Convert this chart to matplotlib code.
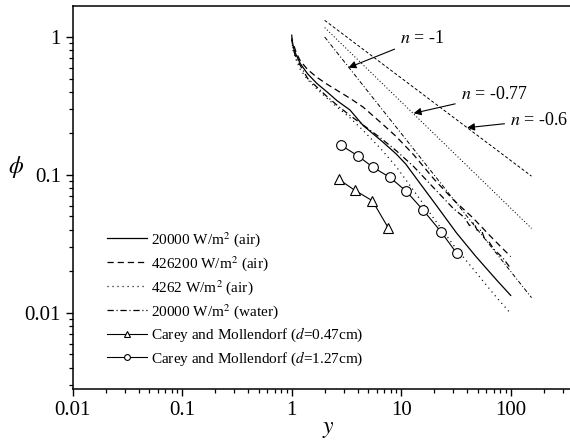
import numpy as np
import matplotlib
matplotlib.use('Agg')
import matplotlib.pyplot as plt
from matplotlib.ticker import FixedLocator, FixedFormatter, LogLocator, NullFormatter

plt.rcParams['font.family'] = ['Liberation Serif', 'DejaVu Serif']
plt.rcParams['mathtext.fontset'] = 'stix'
plt.rcParams['lines.scale_dashes'] = False

#! data
x_air20k = [1.0, 1.02, 1.05, 1.1, 1.2, 1.4, 1.7, 2.1, 2.6, 3.4, 4.5, 6.7, 9.0, 11.0, 15.5, 21, 32, 48, 74, 100]
phi_air20k = [1.03, 0.9, 0.81, 0.74, 0.64, 0.54, 0.46, 0.40, 0.345, 0.296, 0.228, 0.175, 0.142, 0.12, 0.083, 0.06, 0.038, 0.0257, 0.0174, 0.0134]

x_air426k = [1.05, 1.1, 1.2, 1.4, 1.7, 2.1, 2.6, 3.4, 4.5, 6.5, 9, 13, 20, 30, 45, 70, 100]
phi_air426k = [0.86, 0.77, 0.67, 0.58, 0.51, 0.455, 0.41, 0.36, 0.31, 0.24, 0.19, 0.14, 0.093, 0.066, 0.049, 0.034, 0.0256]

x_air4262 = [1.0, 1.03, 1.1, 1.2, 1.4, 1.7, 2.1, 2.6, 3.4, 4.5, 6.5, 9, 13, 20, 30, 45, 70, 100]
phi_air4262 = [0.95, 0.8, 0.68, 0.58, 0.49, 0.42, 0.36, 0.31, 0.26, 0.21, 0.155, 0.115, 0.077, 0.048, 0.031, 0.021, 0.0137, 0.0099]

x_water = [1.0, 1.03, 1.1, 1.4, 2.1, 2.6, 3.4, 4.5, 6.5, 9, 13, 20, 30, 38, 42, 46, 50, 54, 58, 63, 70, 85, 100]
phi_water = [0.98, 0.82, 0.7, 0.5, 0.37, 0.32, 0.27, 0.23, 0.185, 0.15, 0.115, 0.08, 0.057, 0.049, 0.043, 0.045, 0.039, 0.040, 0.034, 0.033, 0.029, 0.025, 0.021]

x_d047 = [2.70, 3.79, 5.46, 7.65]
phi_d047 = [0.0928, 0.0772, 0.065, 0.0411]

x_d127 = [2.81, 4.05, 5.5, 7.89, 11.1, 15.9, 23.0, 32.2]
phi_d127 = [0.1646, 0.137, 0.114, 0.096, 0.0763, 0.0555, 0.0389, 0.0270]

# guide lines (end points)
x_guide = [2, 155]
phi_n1 = [1.0, 0.0129]
phi_n077 = [1.17, 0.041]
phi_n06 = [1.32, 0.098]

labels = ['20000 W/m$^2$ (air)', '426200 W/m$^2$ (air)', '4262 W/m$^2$ (air)',
          '20000 W/m$^2$ (water)', 'Carey and Mollendorf ($d$=0.47cm)',
          'Carey and Mollendorf ($d$=1.27cm)']

fig = plt.figure(figsize=(5.7, 4.42), dpi=100)
ax = fig.add_axes([72.7 / 570, 1 - 389 / 442, 1 - 72.7 / 570, 383 / 442])

lw = 0.9
h1, = ax.plot(x_air20k, phi_air20k, color='k', lw=lw, ls='-')
h2, = ax.plot(x_air426k, phi_air426k, color='k', lw=lw, dashes=(4.5, 2.8))
h3, = ax.plot(x_air4262, phi_air4262, color='k', lw=lw, dashes=(0.8, 2.8))
h4, = ax.plot(x_water, phi_water, color='k', lw=lw, dashes=(4.5, 2, 0.8, 2))
h5, = ax.plot(x_d047, phi_d047, color='k', lw=0.8, marker='^', ms=7, mfc='white', mec='k', mew=0.8)
h6, = ax.plot(x_d127, phi_d127, color='k', lw=0.8, marker='o', ms=7, mfc='white', mec='k', mew=0.8)

ax.plot(x_guide, phi_n1, color='k', lw=0.7, dashes=(3, 1.5, 0.8, 1.5))
ax.plot(x_guide, phi_n077, color='k', lw=0.7, dashes=(0.8, 1.5))
ax.plot(x_guide, phi_n06, color='k', lw=0.7, dashes=(2.2, 1.5))

arr = dict(arrowstyle='-|>', color='k', lw=0.8, mutation_scale=11, shrinkA=2, shrinkB=0)
ax.annotate('$n$ = -1', xy=(3.3, 0.6), xytext=(9.75, 0.98), fontsize=13,
            ha='left', va='center', arrowprops=arr)
ax.annotate('$n$ = -0.77', xy=(13, 0.28), xytext=(34.9, 0.38), fontsize=13,
            ha='left', va='center', arrowprops=arr)
ax.annotate('$n$ = -0.6', xy=(40, 0.22), xytext=(98.6, 0.25), fontsize=13,
            ha='left', va='center', arrowprops=arr)

ax.set_xscale('log')
ax.set_yscale('log')
ax.set_xlim(0.01, 348)
ax.set_ylim(0.00281, 1.677)

xt = [0.01, 0.1, 1, 10, 100]
ax.xaxis.set_major_locator(FixedLocator(xt))
ax.xaxis.set_major_formatter(FixedFormatter(['0.01', '0.1', '1', '10', '100']))
yt = [0.01, 0.1, 1]
ax.yaxis.set_major_locator(FixedLocator(yt))
ax.yaxis.set_major_formatter(FixedFormatter(['0.01', '0.1', '1']))
for a in (ax.xaxis, ax.yaxis):
    a.set_minor_locator(LogLocator(base=10, subs=np.arange(2, 10), numticks=20))
    a.set_minor_formatter(NullFormatter())

ax.tick_params(which='major', direction='out', length=5, width=1.0, labelsize=15, pad=3.5)
ax.tick_params(which='minor', direction='out', length=3, width=0.9)
ax.spines['right'].set_visible(False)
for s in ('left', 'bottom', 'top'):
    ax.spines[s].set_linewidth(1.1)

ax.set_xlabel('$y$', fontsize=17)
ax.xaxis.set_label_coords(0.513, -0.078)
ax.set_ylabel('$\\phi$', fontsize=17, rotation=0, va='center', ha='center')
ax.yaxis.set_label_coords(-0.114, 0.58)

leg = ax.legend([h1, h2, h3, h4, h5, h6], labels, loc='upper left',
                bbox_to_anchor=(107 / 570, 1 - 230 / 442), bbox_transform=fig.transFigure,
                frameon=False, fontsize=11, handlelength=2.6, handletextpad=0.25,
                labelspacing=0.33, borderpad=0, borderaxespad=0, markerscale=0.6)

fig.savefig('out.png', dpi=100)
